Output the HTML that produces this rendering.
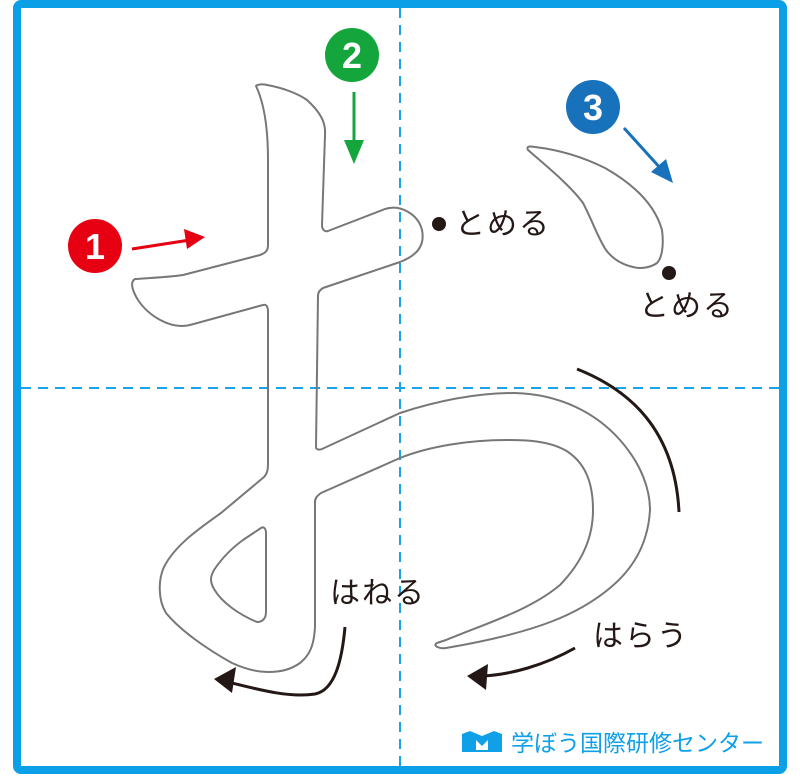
<!DOCTYPE html>
<html><head><meta charset="utf-8"><style>
html,body{margin:0;padding:0;background:#fff;}
svg{display:block;}
text{font-family:"Liberation Sans","Noto Sans CJK JP",sans-serif;}
</style></head><body>
<svg width="800" height="782" viewBox="0 0 800 782" xmlns="http://www.w3.org/2000/svg">
<rect x="0" y="0" width="800" height="782" fill="#fff"/>
<rect x="17" y="4" width="766" height="766" rx="4" fill="none" stroke="#0a9fe6" stroke-width="8"/>
<line x1="400" y1="8" x2="400" y2="766" stroke="#1aa3e8" stroke-width="2" stroke-dasharray="10,7"/>
<line x1="21" y1="388" x2="779" y2="388" stroke="#1aa3e8" stroke-width="2" stroke-dasharray="10,7"/>

<g fill="none" stroke="#777" stroke-width="2" stroke-linejoin="round">
<path d="M256,86 C258,84 264,84 267,85 C285,88 300,95 307,100 C320,112 326,122 325,135 L322,225 C322,230 325,232 328,231 L385,209 C400,204 418,214 422,230 C425,245 418,255 400,262 L323,288 C320,290 318,292 318,296 L316,447 C316,450 320,450 322,449 L400,413 C440,400 480,393 514,393 C560,394 596,413 620,440 C642,465 650,490 650,510 C648,545 632,570 610,588 C580,613 540,632 446,648 C440,649 432,646 437,643 L446,640 C490,622 530,610 560,585 C582,562 593,538 593,510 C593,482 585,462 565,450 C548,441 528,440 507,440 C470,440 430,446 400,458 L321,493 C317,496 315,498 315,502 L315,627 C314,645 310,655 300,663 C290,670 280,672 268,672 C255,672 243,668 232,663 C205,648 180,630 166,613 C158,600 158,580 164,567 C175,545 200,528 221,513 L264,477 C267,474 268,470 268,465 L268,312 C268,306 266,304 263,305 L190,325 C170,330 148,315 138,300 C132,290 130,282 135,279 C150,278 170,277 183,275 L260,255 C266,253 268,250 268,245 L268,160 C268,130 265,105 256,86 Z"/>
<path d="M243,540 L261,528 C264,526 266,529 266,533 L266,612 C266,619 262,622 257,622 C240,615 222,603 214,589 C210,582 210,577 214,570 C222,558 232,548 243,540 Z"/>
<path d="M528,150 C526,146 530,146 535,147 C560,150 585,158 605,168 C635,185 655,205 662,230 C664,245 662,258 657,263 C650,268 640,269 633,267 C620,264 612,258 606,250 C598,238 592,220 583,203 C570,185 545,165 528,150 Z"/>
</g>

<circle cx="95" cy="246" r="27" fill="#e60012"/>
<text x="95" y="259" font-size="36" font-weight="bold" fill="#fff" text-anchor="middle">1</text>
<line x1="132" y1="249" x2="190" y2="240" stroke="#e60012" stroke-width="3"/>
<polygon points="205,237 184,229 187,249" fill="#e60012"/>

<circle cx="352" cy="55" r="27" fill="#14a53c"/>
<text x="352" y="68" font-size="36" font-weight="bold" fill="#fff" text-anchor="middle">2</text>
<line x1="354" y1="92" x2="354" y2="148" stroke="#14a53c" stroke-width="3"/>
<polygon points="354,164 344,140 364,140" fill="#14a53c"/>

<circle cx="593" cy="107" r="27" fill="#1771bb"/>
<text x="593" y="120" font-size="36" font-weight="bold" fill="#fff" text-anchor="middle">3</text>
<line x1="624" y1="128" x2="662" y2="170" stroke="#1771bb" stroke-width="3"/>
<polygon points="673,183 651,172 666,159" fill="#1771bb"/>

<g font-size="30" fill="#231815" letter-spacing="2">
<text x="455" y="234">とめる</text>
<text x="639" y="316">とめる</text>
<text x="330" y="603">はねる</text>
<text x="593" y="646">はらう</text>
</g>
<circle cx="439" cy="224" r="7" fill="#231815"/>
<circle cx="669" cy="273" r="7" fill="#231815"/>

<g fill="none" stroke="#231815" stroke-width="3">
<path d="M577,369 C630,390 675,430 679,512"/>
<path d="M345,627 C342,660 335,690 315,694 C290,698 260,690 228,682"/>
<path d="M575,648 C545,665 510,675 482,676"/>
</g>
<polygon points="214,679 236,667 232,693" fill="#231815"/>
<polygon points="467,676 488,664 486,690" fill="#231815"/>

<path d="M462,734 L470,731 L482,736 L494,731 L502,734 L502,752 L462,752 Z" fill="#0fa0e8"/>
<path d="M476,740 L482,746 L488,740 L488,750 L476,750 Z" fill="#fff"/>
<text x="511" y="751" font-size="23" fill="#0fa0e8">学ぼう国際研修センター</text>
</svg>
</body></html>
